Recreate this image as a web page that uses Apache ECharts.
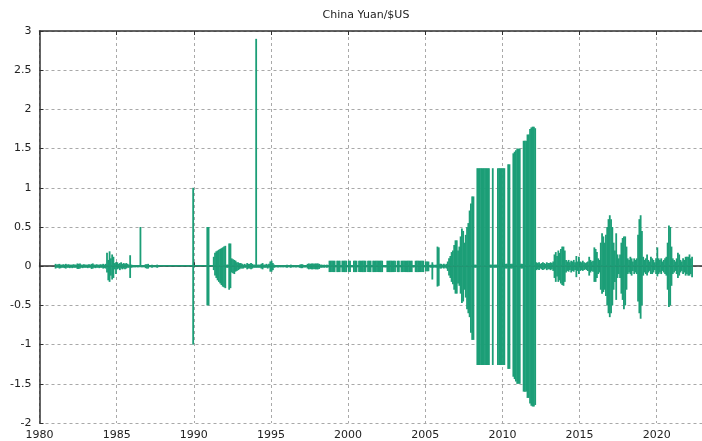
<!DOCTYPE html>
<html>
<head>
<meta charset="utf-8">
<script src="https://cdn.jsdelivr.net/npm/echarts@6/dist/echarts.min.js"></script>
<style>
  html, body { margin: 0; padding: 0; background: #fff; overflow: hidden; }
  #chart { width: 702px; height: 441px; }
</style>
</head>
<body>
<div id="chart"></div>
<script>
// Monthly extremes of the daily change, one value per month starting January 1981.
const firstYear = 1981;

// Highest value reached in each month
const upper = [
  /*1981*/ .03,.02,.025,.03,.02,.02,.025,.02,.03,.02,.025,.02,
  /*1982*/ .02,.02,.025,.02,.02,.035,.03,.035,.02,.02,.025,.02,
  /*1983*/ .02,.02,.025,.02,.03,.035,.02,.02,.025,.02,.02,.025,
  /*1984*/ .02,.03,.02,.03,.17,.08,.19,.1,.15,.12,.04,.05,
  /*1985*/ .05,.03,.04,.05,.03,.04,.03,.04,.03,.02,.14,.02,
  /*1986*/ .015,.015,.01,.015,.01,.015,.5,.01,.015,.01,.025,.025,
  /*1987*/ .03,.01,.01,.02,.01,.01,.01,.02,.01,0,0,0,
  /*1988*/ 0,0,0,0,0,0,0,0,0,0,0,0,
  /*1989*/ 0,0,0,0,0,0,0,0,0,0,0,1,
  /*1990*/ 0,0,0,0,0,0,0,0,0,0,.5,.5,
  /*1991*/ 0,0,0,.12,.17,.19,.2,.21,.22,.23,.24,.25,
  /*1992*/ .26,.02,.02,.29,.29,.1,.09,.08,.07,.05,.05,.04,
  /*1993*/ .04,.03,.02,.03,.02,.04,.03,.03,.04,.03,.02,.02,
  /*1994*/ 2.9,.02,.02,.02,.03,.04,.02,.02,.03,.02,.03,.06,
  /*1995*/ .07,.04,.02,.015,.015,.01,.015,.01,.015,.01,.015,.01,
  /*1996*/ .02,.015,.01,.02,.015,.01,.015,.01,.015,.015,.02,.025,
  /*1997*/ .025,.015,.015,.015,.03,.035,.03,.035,.035,.03,.035,.035,
  /*1998*/ .035,.03,.02,.02,.015,.02,.015,.02,.015,.07,.07,.07,
  /*1999*/ .07,.07,.015,.07,.07,.07,.015,.07,.07,.07,.07,.015,
  /*2000*/ .07,.07,.015,.015,.07,.07,.07,.015,.07,.07,.07,.07,
  /*2001*/ .07,.07,.015,.07,.07,.07,.015,.07,.07,.07,.07,.07,
  /*2002*/ .07,.07,.07,.015,.015,.015,.07,.07,.07,.07,.07,.07,
  /*2003*/ .07,.015,.07,.07,.015,.07,.07,.07,.07,.07,.07,.07,
  /*2004*/ .07,.07,.015,.015,.07,.07,.07,.07,.07,.07,.07,.015,
  /*2005*/ .06,.06,.06,.015,.02,.05,.02,.015,.02,.25,.24,.03,
  /*2006*/ .03,.02,.03,.02,.03,.06,.1,.13,.18,.2,.27,.33,
  /*2007*/ .33,.2,.25,.38,.48,.45,.3,.4,.5,.55,.71,.8,
  /*2008*/ .89,.89,.02,.02,1.25,1.25,1.25,1.25,1.25,1.25,1.25,1.25,
  /*2009*/ 1.25,1.25,.02,.02,1.25,.02,.02,.02,1.25,1.25,1.25,1.25,
  /*2010*/ 1.25,1.25,.03,.03,1.3,1.3,.03,.03,1.44,1.46,1.48,1.5,
  /*2011*/ 1.5,1.5,.03,.03,1.6,1.6,1.6,1.68,1.68,1.75,1.77,1.78,
  /*2012*/ 1.78,1.76,.05,.04,.05,.03,.04,.05,.04,.03,.05,.04,
  /*2013*/ .04,.05,.04,.06,.15,.18,.13,.2,.17,.22,.25,.25,
  /*2014*/ .2,.08,.06,.08,.05,.07,.06,.08,.05,.13,.06,.12,
  /*2015*/ .06,.05,.07,.05,.04,.05,.06,.12,.08,.06,.07,.24,
  /*2016*/ .22,.18,.1,.08,.3,.42,.38,.3,.4,.5,.6,.65,
  /*2017*/ .6,.5,.3,.2,.42,.15,.1,.15,.3,.36,.38,.38,
  /*2018*/ .25,.1,.08,.12,.1,.06,.1,.08,.1,.4,.6,.65,
  /*2019*/ .45,.12,.08,.1,.15,.08,.06,.12,.1,.08,.05,.1,
  /*2020*/ .24,.1,.08,.1,.06,.08,.1,.12,.3,.52,.5,.25,
  /*2021*/ .1,.08,.06,.1,.17,.15,.08,.06,.1,.08,.12,.12,
  /*2022*/ .12,.15,.1,.12
];

// Lowest value reached in each month
const lower = [
  /*1981*/ -.03,-.02,-.02,-.03,-.025,-.02,-.02,-.025,-.03,-.02,-.02,-.025,
  /*1982*/ -.02,-.025,-.02,-.02,-.02,-.035,-.035,-.03,-.02,-.025,-.02,-.02,
  /*1983*/ -.02,-.025,-.02,-.02,-.035,-.03,-.02,-.025,-.02,-.02,-.025,-.02,
  /*1984*/ -.02,-.03,-.025,-.03,-.08,-.18,-.2,-.12,-.17,-.15,-.04,-.1,
  /*1985*/ -.04,-.03,-.05,-.03,-.04,-.03,-.04,-.03,-.02,-.02,-.15,-.02,
  /*1986*/ -.015,-.01,-.015,-.01,-.015,-.01,-.01,-.015,-.01,-.01,-.025,-.03,
  /*1987*/ -.03,-.01,-.01,-.02,-.01,-.01,-.01,-.02,-.01,0,0,0,
  /*1988*/ 0,0,0,0,0,0,0,0,0,0,0,0,
  /*1989*/ 0,0,0,0,0,0,0,0,0,0,0,-1,
  /*1990*/ 0,0,0,0,0,0,0,0,0,0,-.5,-.5,
  /*1991*/ 0,0,0,-.05,-.12,-.15,-.18,-.2,-.22,-.24,-.26,-.27,
  /*1992*/ -.28,-.02,-.02,-.3,-.28,-.08,-.09,-.1,-.07,-.06,-.05,-.04,
  /*1993*/ -.03,-.03,-.03,-.02,-.02,-.04,-.03,-.03,-.04,-.03,-.02,-.02,
  /*1994*/ -.02,-.02,-.02,-.02,-.03,-.04,-.02,-.02,-.02,-.03,-.02,-.07,
  /*1995*/ -.07,-.05,-.02,-.015,-.01,-.015,-.01,-.015,-.01,-.015,-.01,-.015,
  /*1996*/ -.02,-.01,-.015,-.02,-.01,-.015,-.01,-.015,-.01,-.015,-.02,-.025,
  /*1997*/ -.025,-.015,-.015,-.015,-.03,-.04,-.035,-.04,-.04,-.035,-.04,-.04,
  /*1998*/ -.04,-.035,-.02,-.02,-.015,-.02,-.015,-.02,-.015,-.075,-.075,-.075,
  /*1999*/ -.075,-.075,-.015,-.075,-.075,-.075,-.015,-.075,-.075,-.075,-.075,-.015,
  /*2000*/ -.075,-.075,-.015,-.015,-.075,-.075,-.075,-.015,-.075,-.075,-.075,-.075,
  /*2001*/ -.075,-.075,-.015,-.075,-.075,-.075,-.015,-.075,-.075,-.075,-.075,-.075,
  /*2002*/ -.075,-.075,-.075,-.015,-.015,-.015,-.075,-.075,-.075,-.075,-.075,-.075,
  /*2003*/ -.075,-.015,-.075,-.075,-.015,-.075,-.075,-.075,-.075,-.075,-.075,-.075,
  /*2004*/ -.075,-.075,-.015,-.015,-.075,-.075,-.075,-.075,-.075,-.075,-.075,-.015,
  /*2005*/ -.065,-.065,-.065,-.015,-.02,-.17,-.02,-.015,-.02,-.26,-.25,-.03,
  /*2006*/ -.03,-.02,-.03,-.02,-.03,-.06,-.12,-.15,-.2,-.23,-.3,-.35,
  /*2007*/ -.35,-.22,-.25,-.35,-.47,-.45,-.3,-.4,-.55,-.6,-.65,-.85,
  /*2008*/ -.94,-.94,-.02,-.02,-1.26,-1.26,-1.26,-1.26,-1.26,-1.26,-1.26,-1.26,
  /*2009*/ -1.26,-1.26,-.02,-.02,-1.26,-.02,-.02,-.02,-1.26,-1.26,-1.26,-1.26,
  /*2010*/ -1.26,-1.26,-.03,-.03,-1.31,-1.31,-.03,-.03,-1.41,-1.44,-1.47,-1.5,
  /*2011*/ -1.5,-1.5,-.03,-.03,-1.6,-1.6,-1.6,-1.68,-1.68,-1.75,-1.78,-1.79,
  /*2012*/ -1.79,-1.77,-.05,-.04,-.05,-.03,-.04,-.05,-.04,-.03,-.05,-.04,
  /*2013*/ -.04,-.05,-.04,-.06,-.15,-.2,-.13,-.2,-.18,-.22,-.24,-.25,
  /*2014*/ -.2,-.08,-.06,-.07,-.05,-.08,-.06,-.07,-.05,-.14,-.06,-.1,
  /*2015*/ -.06,-.05,-.06,-.05,-.04,-.05,-.06,-.12,-.08,-.06,-.07,-.2,
  /*2016*/ -.2,-.15,-.1,-.08,-.3,-.35,-.33,-.3,-.38,-.5,-.6,-.65,
  /*2017*/ -.6,-.5,-.3,-.2,-.43,-.15,-.1,-.15,-.35,-.43,-.55,-.5,
  /*2018*/ -.3,-.1,-.08,-.1,-.12,-.06,-.1,-.08,-.1,-.45,-.6,-.67,
  /*2019*/ -.5,-.12,-.08,-.1,-.12,-.08,-.06,-.1,-.1,-.08,-.05,-.1,
  /*2020*/ -.13,-.1,-.08,-.1,-.06,-.08,-.1,-.12,-.3,-.52,-.5,-.25,
  /*2021*/ -.1,-.08,-.06,-.1,-.15,-.12,-.08,-.06,-.1,-.08,-.12,-.1,
  /*2022*/ -.12,-.12,-.1,-.14
];

const xTickStep = 5;   // years between x labels
const yTickStep = 0.5;

// Each month becomes two impulses (its high and its low) at mid-month.
const impulses = [];
upper.forEach((v, i) => {
  const t = firstYear + (i + 0.5) / 12;
  impulses.push([t, v]);
  impulses.push([t, lower[i]]);
});

const font = 'DejaVu Sans, Verdana, sans-serif';
const gridLine = { show: true, lineStyle: { color: '#a9a9a9', width: 1, type: [3, 3] } };
const frame = { show: true, lineStyle: { color: '#303030', width: 1.5 } };

const chart = echarts.init(document.getElementById('chart'), null, { renderer: 'canvas' });
chart.setOption({
  animation: false,
  backgroundColor: '#ffffff',
  title: {
    text: 'China Yuan/$US',
    left: 361,
    top: 5,
    textAlign: 'center',
    textStyle: { fontFamily: font, fontSize: 11, fontWeight: 'normal', color: '#222' }
  },
  // the 1980–2023 span runs a little past the right edge of the window
  grid: { left: 39.5, width: 663.5, top: 31, height: 392,
          containLabel: false, outerBoundsMode: 'none' },
  xAxis: [
    {
      type: 'value', min: 1980, max: 2023, interval: xTickStep,
      axisLine: frame,
      axisTick: { show: true, inside: true, length: 4, lineStyle: { color: '#303030' } },
      axisLabel: { fontFamily: font, fontSize: 11, color: '#222', margin: 7,
                   formatter: v => (v % 5 === 0 ? String(v) : '') },
      splitLine: gridLine
    },
    {
      type: 'value', position: 'top', min: 1980, max: 2023, interval: xTickStep,
      axisLine: frame,
      axisTick: { show: true, inside: true, length: 4, lineStyle: { color: '#303030' } },
      axisLabel: { show: false },
      splitLine: { show: false }
    }
  ],
  yAxis: {
    type: 'value', min: -2, max: 3, interval: yTickStep,
    axisLine: frame,
    axisTick: { show: true, inside: true, length: 4, lineStyle: { color: '#303030' } },
    axisLabel: { fontFamily: font, fontSize: 11, color: '#222', margin: 8 },
    splitLine: gridLine
  },
  series: [{
    type: 'bar',
    xAxisIndex: 0,
    data: impulses,
    barWidth: 1.8,
    barMinHeight: 1,
    itemStyle: { color: '#1c9e77' },
    emphasis: { disabled: true }
  }]
});
</script>
</body>
</html>
